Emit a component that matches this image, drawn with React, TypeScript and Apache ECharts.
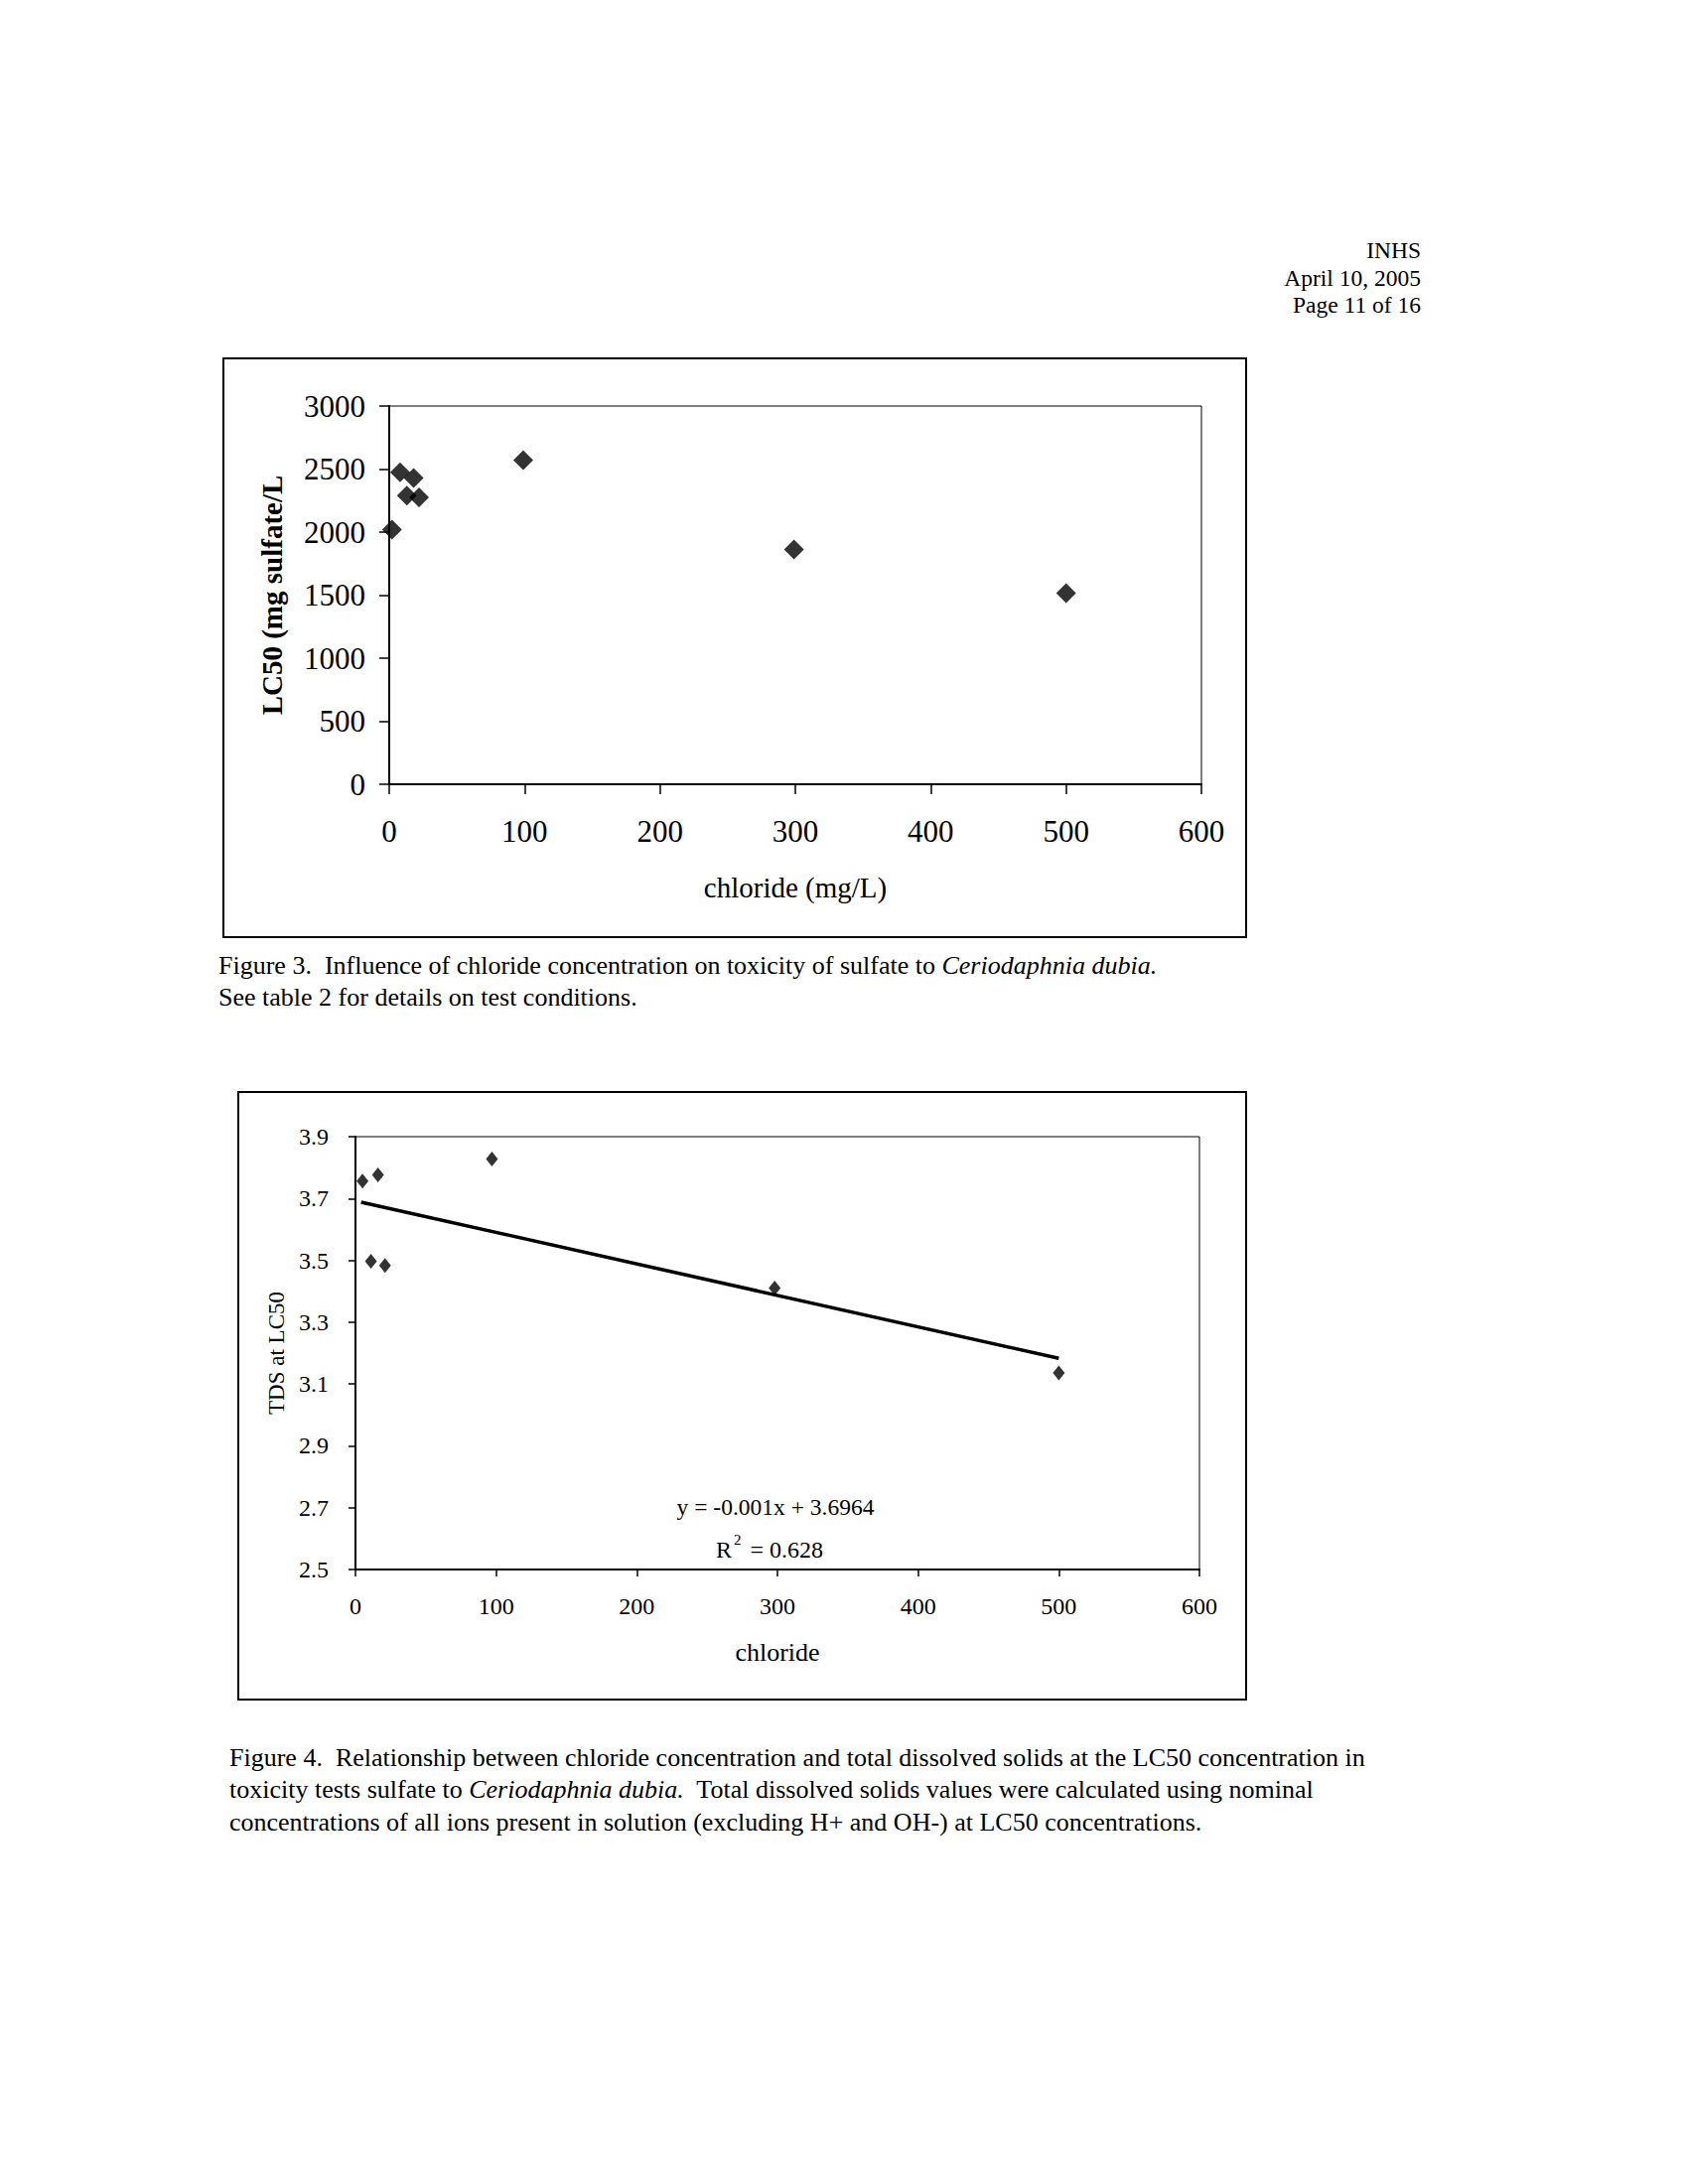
import React, { useEffect, useRef } from "react";
import * as echarts from "echarts";

// Figure 3 data: chloride (mg/L) vs LC50 (mg sulfate/L)
const fig3Chloride = [2, 8, 13, 18, 22, 99, 299, 500];
const fig3LC50 = [2020, 2475, 2290, 2430, 2275, 2570, 1862, 1515];
const fig3XTicks = [0, 100, 200, 300, 400, 500, 600];
const fig3YTicks = [0, 500, 1000, 1500, 2000, 2500, 3000];

// Figure 4 data: chloride vs TDS at LC50
const fig4Chloride = [5, 16, 11, 21, 97, 298, 500];
const fig4TDS = [3.756, 3.776, 3.497, 3.483, 3.828, 3.41, 3.136];
// Linear trendline endpoints as drawn
const trendChloride = [4, 500];
const trendTDS = [3.688, 3.183];
const fig4YTicks = [2.5, 2.7, 2.9, 3.1, 3.3, 3.5, 3.7, 3.9];

const headerLines = ["INHS", "April 10, 2005", "Page 11 of 16"];
const caption3 = [
  "Figure 3.  Influence of chloride concentration on toxicity of sulfate to {i|Ceriodaphnia dubia.}",
  "See table 2 for details on test conditions.",
];
const caption4 = [
  "Figure 4.  Relationship between chloride concentration and total dissolved solids at the LC50 concentration in",
  "toxicity tests sulfate to {i|Ceriodaphnia dubia.}  Total dissolved solids values were calculated using nominal",
  "concentrations of all ions present in solution (excluding H+ and OH-) at LC50 concentrations.",
];
const equationText = "y = -0.001x + 3.6964";
const r2Text = "{t|R}{s|2}{t| = 0.628}";

const FONT = "Liberation Serif";

export default function App() {
  const ref = useRef<HTMLDivElement>(null);

  useEffect(() => {
    if (!ref.current) return;
    const chart = echarts.init(ref.current, undefined, { renderer: "svg" });

    const axisLineStyle = { color: "#000", width: 2 };

    const textEl = (x: number, y: number, text: string, fontSize: number, align = "left", extra: any = {}) => ({
      type: "text",
      x,
      y,
      style: {
        text,
        fontFamily: FONT,
        fontSize,
        fill: "#000",
        align,
        verticalAlign: "middle",
        rich: { i: { fontStyle: "italic", fontFamily: FONT, fontSize, fill: "#000" } },
        ...extra,
      },
    });

    const option: any = {
      animation: false,
      backgroundColor: "#fff",
      grid: [
        { left: 392, top: 409, width: 818, height: 381, show: true, borderColor: "#000", borderWidth: 1, backgroundColor: "transparent" },
        { left: 358, top: 1145, width: 850, height: 436, show: true, borderColor: "#000", borderWidth: 1, backgroundColor: "transparent" },
      ],
      xAxis: [
        {
          gridIndex: 0,
          type: "value",
          min: fig3XTicks[0],
          max: fig3XTicks[fig3XTicks.length - 1],
          interval: 100,
          name: "chloride (mg/L)",
          nameLocation: "middle",
          nameGap: 89,
          nameTextStyle: { fontFamily: FONT, fontSize: 29, color: "#000" },
          axisLine: { show: true, onZero: false, lineStyle: axisLineStyle },
          axisTick: { show: true, inside: false, length: 10, lineStyle: { color: "#000", width: 1.5 } },
          axisLabel: { margin: 32, fontFamily: FONT, fontSize: 31, color: "#000" },
          splitLine: { show: false },
        },
        {
          gridIndex: 1,
          type: "value",
          min: 0,
          max: 600,
          interval: 100,
          name: "chloride",
          nameLocation: "middle",
          nameGap: 70,
          nameTextStyle: { fontFamily: FONT, fontSize: 26, color: "#000" },
          axisLine: { show: true, onZero: false, lineStyle: axisLineStyle },
          axisTick: { show: true, inside: false, length: 7, lineStyle: { color: "#000", width: 1.5 } },
          axisLabel: { margin: 25, fontFamily: FONT, fontSize: 24, color: "#000" },
          splitLine: { show: false },
        },
      ],
      yAxis: [
        {
          gridIndex: 0,
          type: "value",
          min: fig3YTicks[0],
          max: fig3YTicks[fig3YTicks.length - 1],
          interval: 500,
          name: "LC50 (mg sulfate/L",
          nameLocation: "middle",
          nameGap: 104,
          nameTextStyle: { fontFamily: FONT, fontSize: 29, fontWeight: "bold", color: "#000" },
          axisLine: { show: true, onZero: false, lineStyle: axisLineStyle },
          axisTick: { show: true, inside: false, length: 10, lineStyle: { color: "#000", width: 1.5 } },
          axisLabel: {
            margin: 24,
            fontFamily: FONT,
            fontSize: 31,
            color: "#000",
            formatter: (v: number) => String(v),
          },
          splitLine: { show: false },
        },
        {
          gridIndex: 1,
          type: "value",
          min: fig4YTicks[0],
          max: fig4YTicks[fig4YTicks.length - 1],
          interval: 0.2,
          name: "TDS at LC50",
          nameLocation: "middle",
          nameGap: 66,
          nameTextStyle: { fontFamily: FONT, fontSize: 23, color: "#000" },
          axisLine: { show: true, onZero: false, lineStyle: axisLineStyle },
          axisTick: { show: true, inside: false, length: 7, lineStyle: { color: "#000", width: 1.5 } },
          axisLabel: {
            margin: 27,
            fontFamily: FONT,
            fontSize: 24,
            color: "#000",
            formatter: (v: number) => v.toFixed(1),
          },
          splitLine: { show: false },
        },
      ],
      series: [
        {
          type: "scatter",
          xAxisIndex: 0,
          yAxisIndex: 0,
          symbol: "diamond",
          symbolSize: 20,
          itemStyle: { color: "#000" },
          data: fig3Chloride.map((x, i) => [x, fig3LC50[i]]),
        },
        {
          type: "scatter",
          xAxisIndex: 1,
          yAxisIndex: 1,
          symbol: "diamond",
          symbolSize: [12, 15],
          itemStyle: { color: "#000" },
          data: fig4Chloride.map((x, i) => [x, fig4TDS[i]]),
        },
        {
          type: "line",
          xAxisIndex: 1,
          yAxisIndex: 1,
          symbol: "none",
          lineStyle: { color: "#000", width: 3.5 },
          data: trendChloride.map((x, i) => [x, trendTDS[i]]),
        },
      ],
      graphic: [
        { type: "rect", shape: { x: 225, y: 361, width: 1030, height: 583 }, style: { fill: "none", stroke: "#000", lineWidth: 2 } },
        { type: "rect", shape: { x: 240, y: 1100, width: 1015, height: 612 }, style: { fill: "none", stroke: "#000", lineWidth: 2 } },
        ...headerLines.map((t, i) => textEl(1431, 252 + i * 27.5, t, 23.5, "right")),
        ...caption3.map((t, i) => textEl(220, 972 + i * 32, t, 26)),
        ...caption4.map((t, i) => textEl(231, 1770 + i * 32.5, t, 26)),
        textEl(781, 1518, equationText, 23.5, "center"),
        textEl(775, 1558, r2Text, 24, "center", {
          rich: {
            t: { fontFamily: FONT, fontSize: 24, fill: "#000", lineHeight: 30, verticalAlign: "bottom" },
            s: { fontFamily: FONT, fontSize: 15, fill: "#000", lineHeight: 30, verticalAlign: "top", padding: [0, 3, 0, 2] },
          },
        }),
      ],
    };

    chart.setOption(option);
    return () => chart.dispose();
  }, []);

  return (
    <div
      ref={ref}
      style={{ position: "absolute", left: 0, top: 0, width: 1696, height: 2200, background: "#fff" }}
    />
  );
}
